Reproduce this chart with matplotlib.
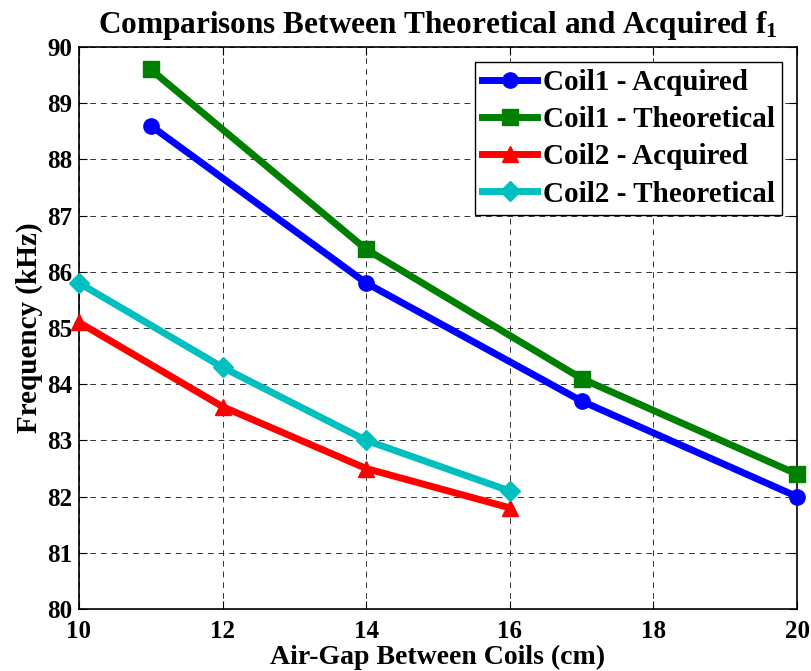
import matplotlib
matplotlib.use("Agg")
import matplotlib.pyplot as plt

x_coil1 = [11, 14, 17, 20]
coil1_acq = [88.6, 85.8, 83.7, 82.0]
coil1_theo = [89.6, 86.4, 84.1, 82.4]
x_coil2 = [10, 12, 14, 16]
coil2_acq = [85.1, 83.6, 82.5, 81.8]
coil2_theo = [85.8, 84.3, 83.0, 82.1]
labels = ["Coil1 - Acquired", "Coil1 - Theoretical", "Coil2 - Acquired", "Coil2 - Theoretical"]
xticks = [10, 12, 14, 16, 18, 20]
yticks = list(range(80, 91))

plt.rcParams['font.family'] = ['Liberation Serif', 'DejaVu Serif']
plt.rcParams['font.weight'] = 'bold'
plt.rcParams['mathtext.fontset'] = 'custom'
plt.rcParams['mathtext.rm'] = 'Liberation Serif:bold'
plt.rcParams['mathtext.it'] = 'Liberation Serif:bold'

fig = plt.figure(figsize=(8.11, 6.71), dpi=100)
ax = fig.add_axes([79/811, 1 - 609/671, (797-79)/811, (609-47)/671])

lw = 5
ax.plot(x_coil1, coil1_acq, '-o', color='#0000ff', lw=lw, ms=11, label=labels[0], clip_on=False, zorder=3)
ax.plot(x_coil1, coil1_theo, '-s', color='#008000', lw=lw, ms=11, label=labels[1], clip_on=False, zorder=3)
ax.plot(x_coil2, coil2_acq, '-^', color='#ff0000', lw=lw, ms=12, label=labels[2], clip_on=False, zorder=3)
ax.plot(x_coil2, coil2_theo, '-D', color='#00bfbf', lw=lw, ms=10, label=labels[3], clip_on=False, zorder=3)

ax.set_xlim(10, 20)
ax.set_ylim(80, 90)
ax.set_xticks(xticks)
ax.set_yticks(yticks)
ax.tick_params(direction='in', top=True, right=True, labelsize=18, length=6, width=0.8)
ax.tick_params(axis='x', pad=8)
ax.tick_params(axis='y', pad=5)
for lab in ax.get_xticklabels() + ax.get_yticklabels():
    lab.set_fontweight('bold')
ax.grid(True, linestyle=(0, (6, 5)), color='#333333', linewidth=0.7)
for s in ax.spines.values():
    s.set_linewidth(1.2)

ax.set_xlabel('Air-Gap Between Coils (cm)', fontsize=20, fontweight='bold', labelpad=1)
ax.set_ylabel('Frequency (kHz)', fontsize=21, fontweight='bold', labelpad=3)
ax.set_title('Comparisons Between Theoretical and Acquired f$_1$', fontsize=22.5, fontweight='bold', pad=10)

leg = ax.legend(loc='upper right', fontsize=21, frameon=True, fancybox=False, edgecolor='black',
                framealpha=1, handlelength=1.9, handletextpad=0.2, borderpad=0.25, labelspacing=0.35,
                borderaxespad=0.5)
leg.get_frame().set_linewidth(1.0)
leg.set_zorder(5)
for t in leg.get_texts():
    t.set_fontweight('bold')

fig.savefig('out.png', dpi=100)
